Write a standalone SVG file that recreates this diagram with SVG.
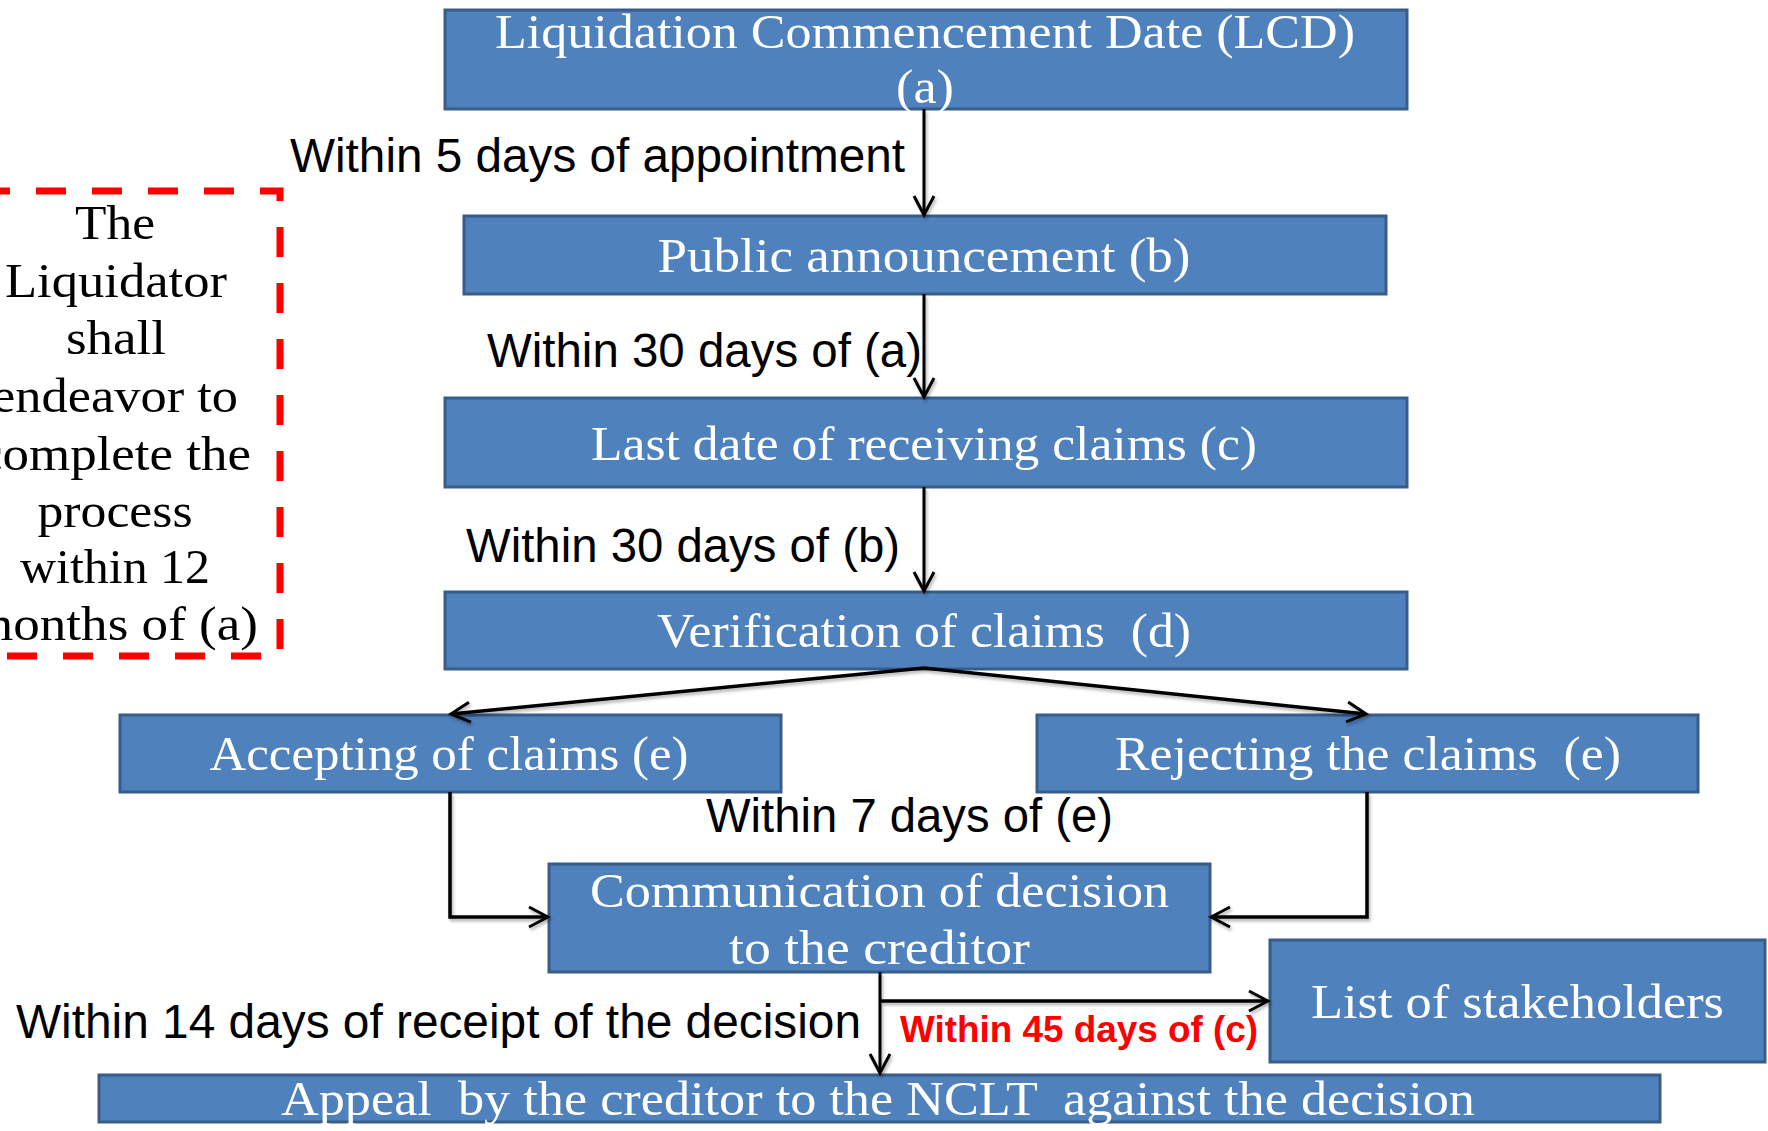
<svg xmlns="http://www.w3.org/2000/svg" width="1768" height="1131" viewBox="0 0 1768 1131">
  <defs>
    <style>
      .box { fill: #4F81BD; stroke: #385D8A; stroke-width: 3; }
      .btxt { font-family: "Liberation Serif", "Times New Roman", serif; font-size: 48px; fill: #FFFFFF; text-anchor: middle; white-space: pre; }
      .note { font-family: "Liberation Serif", "Times New Roman", serif; font-size: 48px; fill: #000000; text-anchor: middle; }
      .lbl { font-family: "Liberation Sans", Arial, sans-serif; font-size: 47.5px; fill: #000000; }
      .red { font-family: "Liberation Sans", Arial, sans-serif; font-size: 36.5px; font-weight: bold; fill: #FF0000; }
      .wire { fill: none; stroke: #000000; stroke-width: 3; }
      .thick { stroke-width: 3.5; }
      .dash { fill: none; stroke: #FF0000; stroke-width: 7; stroke-dasharray: 30 26; }
    </style>
    <marker id="arrow" markerUnits="userSpaceOnUse" viewBox="0 0 24 24" markerWidth="24" markerHeight="24" refX="21" refY="12" orient="auto">
      <path d="M2,2 L21,12 L2,22" fill="none" stroke="#000000" stroke-width="3"/>
    </marker>
    <filter id="soft" filterUnits="userSpaceOnUse" x="0" y="0" width="1768" height="1131">
      <feDropShadow dx="1.5" dy="2.5" stdDeviation="1.5" flood-color="#000000" flood-opacity="0.3"/>
    </filter>
  </defs>

  <rect width="1768" height="1131" fill="#FFFFFF"/>

  <!-- side note in a dashed red frame (left edge runs off the page) -->
  <g id="note">
    <rect class="dash" x="-20" y="191" width="300" height="465"/>
    <text class="note" x="115" y="239" textLength="80" lengthAdjust="spacingAndGlyphs">The</text>
    <text class="note" x="116" y="297" textLength="222" lengthAdjust="spacingAndGlyphs">Liquidator</text>
    <text class="note" x="116" y="354" textLength="100" lengthAdjust="spacingAndGlyphs">shall</text>
    <text class="note" x="115" y="412" textLength="246" lengthAdjust="spacingAndGlyphs">endeavor to</text>
    <text class="note" x="115" y="470" textLength="272" lengthAdjust="spacingAndGlyphs">complete the</text>
    <text class="note" x="115" y="527" textLength="155" lengthAdjust="spacingAndGlyphs">process</text>
    <text class="note" x="115" y="583" textLength="190" lengthAdjust="spacingAndGlyphs">within 12</text>
    <text class="note" x="115" y="640" textLength="286" lengthAdjust="spacingAndGlyphs">months of (a)</text>
  </g>

  <!-- process steps -->
  <g id="node-lcd">
    <rect class="box" x="445" y="10" width="962" height="99"/>
    <text class="btxt" x="925" y="48" textLength="860" lengthAdjust="spacingAndGlyphs">Liquidation Commencement Date (LCD)</text>
    <text class="btxt" x="925" y="103" textLength="58" lengthAdjust="spacingAndGlyphs">(a)</text>
  </g>
  <g id="node-announcement">
    <rect class="box" x="464" y="216" width="922" height="78"/>
    <text class="btxt" x="924" y="272" textLength="533" lengthAdjust="spacingAndGlyphs">Public announcement (b)</text>
  </g>
  <g id="node-last-date">
    <rect class="box" x="445" y="398" width="962" height="89"/>
    <text class="btxt" x="924" y="460" textLength="666" lengthAdjust="spacingAndGlyphs">Last date of receiving claims (c)</text>
  </g>
  <g id="node-verification">
    <rect class="box" x="445" y="592" width="962" height="77"/>
    <text class="btxt" x="924" y="647" textLength="534" lengthAdjust="spacingAndGlyphs" xml:space="preserve">Verification of claims  (d)</text>
  </g>
  <g id="node-accepting">
    <rect class="box" x="120" y="715" width="661" height="77"/>
    <text class="btxt" x="449" y="770" textLength="479" lengthAdjust="spacingAndGlyphs">Accepting of claims (e)</text>
  </g>
  <g id="node-rejecting">
    <rect class="box" x="1037" y="715" width="661" height="77"/>
    <text class="btxt" x="1368" y="770" textLength="506" lengthAdjust="spacingAndGlyphs" xml:space="preserve">Rejecting the claims  (e)</text>
  </g>
  <g id="node-communication">
    <rect class="box" x="549" y="864" width="661" height="108"/>
    <text class="btxt" x="879.5" y="907" textLength="579" lengthAdjust="spacingAndGlyphs">Communication of decision</text>
    <text class="btxt" x="879.5" y="964" textLength="301" lengthAdjust="spacingAndGlyphs">to the creditor</text>
  </g>
  <g id="node-stakeholders">
    <rect class="box" x="1270" y="940" width="495" height="122"/>
    <text class="btxt" x="1517.5" y="1018" textLength="413" lengthAdjust="spacingAndGlyphs">List of stakeholders</text>
  </g>
  <g id="node-appeal">
    <rect class="box" x="99" y="1075" width="1561" height="47"/>
    <text class="btxt" x="878" y="1115" textLength="1194" lengthAdjust="spacingAndGlyphs" xml:space="preserve">Appeal  by the creditor to the NCLT  against the decision</text>
  </g>

  <!-- connectors -->
  <g id="connectors" filter="url(#soft)">
    <path class="wire" d="M924,109 V215" marker-end="url(#arrow)"/>
    <path class="wire" d="M924,294 V397" marker-end="url(#arrow)"/>
    <path class="wire" d="M924,487 V591" marker-end="url(#arrow)"/>
    <path class="wire thick" d="M924,668 L451,714" marker-end="url(#arrow)"/>
    <path class="wire thick" d="M924,668 L1366,714" marker-end="url(#arrow)"/>
    <path class="wire thick" d="M450,792 V917 H548" marker-end="url(#arrow)"/>
    <path class="wire thick" d="M1367,792 V917 H1211" marker-end="url(#arrow)"/>
    <path class="wire" d="M880,972 V1073" marker-end="url(#arrow)"/>
    <path class="wire thick" d="M880,1001 H1268" marker-end="url(#arrow)"/>
  </g>

  <!-- timing labels -->
  <g id="labels">
    <text class="lbl" x="290" y="172" textLength="615" lengthAdjust="spacingAndGlyphs">Within 5 days of appointment</text>
    <text class="lbl" x="487" y="367" textLength="435" lengthAdjust="spacingAndGlyphs">Within 30 days of (a)</text>
    <text class="lbl" x="466" y="562" textLength="434" lengthAdjust="spacingAndGlyphs">Within 30 days of (b)</text>
    <text class="lbl" x="706" y="832" textLength="407" lengthAdjust="spacingAndGlyphs">Within 7 days of (e)</text>
    <text class="lbl" x="16" y="1038" textLength="845" lengthAdjust="spacingAndGlyphs">Within 14 days of receipt of the decision</text>
    <text class="red" x="900" y="1042" textLength="358" lengthAdjust="spacingAndGlyphs">Within 45 days of (c)</text>
  </g>
</svg>
